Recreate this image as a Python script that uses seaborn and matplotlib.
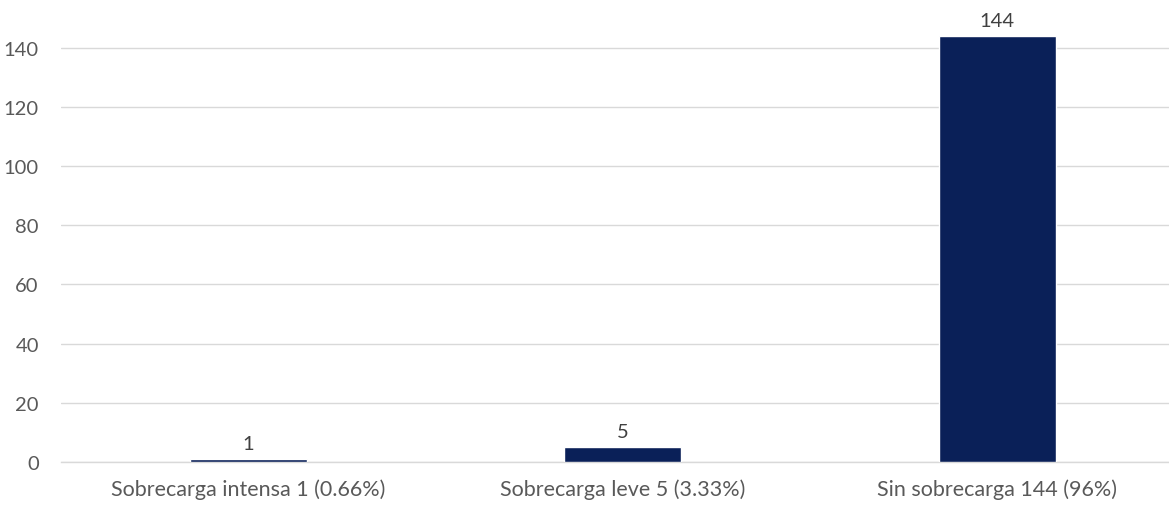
import matplotlib
matplotlib.use("Agg")
import matplotlib.pyplot as plt
import seaborn as sns
import pandas as pd

categories = ["Sobrecarga intensa 1 (0.66%)", "Sobrecarga leve 5 (3.33%)", "Sin sobrecarga 144 (96%)"]
values = [1, 5, 144]
yticks = [0, 20, 40, 60, 80, 100, 120, 140]

sns.set_theme(style="white")
plt.rcParams["font.family"] = ["Lato", "DejaVu Sans"]

df = pd.DataFrame({"categoria": categories, "valor": values})

fig = plt.figure(figsize=(11.69, 5.06), dpi=100)
ax = fig.add_axes([0.0522, 0.085, 0.961, 0.877])

sns.barplot(data=df, x="categoria", y="valor", color="#0a2058", width=0.312,
            saturation=1, ax=ax, zorder=3)

ax.set_ylim(0, 150)
ax.set_yticks(yticks)
ax.grid(axis="y", color="#d9d9d9", linewidth=1, zorder=0)
ax.grid(axis="x", visible=False)
for s in ["top", "right", "left"]:
    ax.spines[s].set_visible(False)
ax.spines["bottom"].set_color("#d9d9d9")
ax.spines["bottom"].set_linewidth(1)

ax.set_xlabel("")
ax.set_ylabel("")
ax.tick_params(axis="y", length=0, pad=16, labelsize=14.5, labelcolor="#595959")
ax.tick_params(axis="x", length=0, pad=12, labelsize=15.5, labelcolor="#595959")

for container in ax.containers:
    ax.bar_label(container, labels=[str(v) for v in values], padding=5,
                 fontsize=14.5, color="#404040")

fig.savefig("out.png", dpi=100)
